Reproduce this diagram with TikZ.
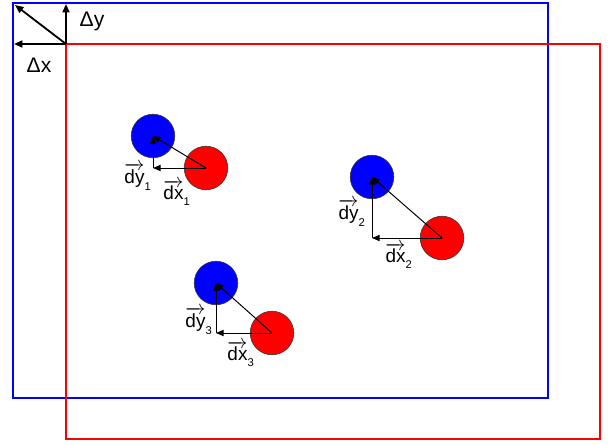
\documentclass[tikz,border=0pt]{standalone}
\usepackage{fontspec}
\setmainfont{Liberation Sans}
\usetikzlibrary{arrows.meta}
\newcommand{\dvec}[2]{$\overrightarrow{\mbox{#1}}_{\mbox{\footnotesize\raisebox{-2pt}{#2}}}$}
\tikzset{
  tip/.style={-{Triangle[length=6pt,width=5pt]}},
  smalltip/.style={-{Triangle[length=5.5pt,width=4.5pt]}},
  bluedot/.style={circle,draw=black!80,fill=blue,minimum size=31pt,inner sep=0pt},
  reddot/.style={circle,draw=black!80,fill=red,minimum size=31pt,inner sep=0pt},
  lbl/.style={font=\fontsize{13.5}{15}\selectfont,inner sep=0pt}
}
\begin{document}
\begin{tikzpicture}[x=0.025cm,y=-0.025cm]
\useasboundingbox (0,0) rectangle (611,445);

% frames
\draw [blue, line width=1.4pt] (13,3) rectangle (548,398);
\draw [red, line width=1.4pt] (66,44) rectangle (600,439);

% shift of the frame
\coordinate (o) at (66,44);
\coordinate (ox) at (14,44);
\coordinate (oy) at (66,4);
\coordinate (oxy) at (15,5);
\draw [tip, line width=1.3pt] (o) -- (ox);
\draw [tip, line width=1.3pt] (o) -- (oy);
\draw [tip, line width=1.3pt] (o) -- (oxy);
\node (dY) at (92,21) [lbl, font=\fontsize{15}{17}\selectfont] {Δy};
\node (dX) at (39,65) [lbl, font=\fontsize{15}{17}\selectfont] {Δx};

% particle 1
\node (b1) at (153,136) [bluedot] {};
\node (r1) at (206,168) [reddot] {};
\coordinate (c1) at (b1.center |- r1.center);
\draw [smalltip, line width=0.7pt] (r1.center) -- (c1);
\draw [smalltip, line width=0.7pt] (c1) -- (b1.center);
\draw [smalltip, line width=0.7pt] (r1.center) -- (b1.center);
\node (dy1) at (138,177) [lbl] {\dvec{dy}{1}};
\node (dx1) at (177,193) [lbl] {\dvec{dx}{1}};

% particle 2
\node (b2) at (372,177) [bluedot] {};
\node (r2) at (442,238) [reddot] {};
\coordinate (c2) at (b2.center |- r2.center);
\draw [smalltip, line width=0.7pt] (r2.center) -- (c2);
\draw [smalltip, line width=0.7pt] (c2) -- (b2.center);
\draw [smalltip, line width=0.7pt] (r2.center) -- (b2.center);
\node (dy2) at (352,213) [lbl] {\dvec{dy}{2}};
\node (dx2) at (399,256) [lbl] {\dvec{dx}{2}};

% particle 3
\node (b3) at (216,283) [bluedot] {};
\node (r3) at (272,333) [reddot] {};
\coordinate (c3) at (b3.center |- r3.center);
\draw [smalltip, line width=0.7pt] (r3.center) -- (c3);
\draw [smalltip, line width=0.7pt] (c3) -- (b3.center);
\draw [smalltip, line width=0.7pt] (r3.center) -- (b3.center);
\node (dy3) at (199,321) [lbl] {\dvec{dy}{3}};
\node (dx3) at (241,354) [lbl] {\dvec{dx}{3}};
\end{tikzpicture}
\end{document}
